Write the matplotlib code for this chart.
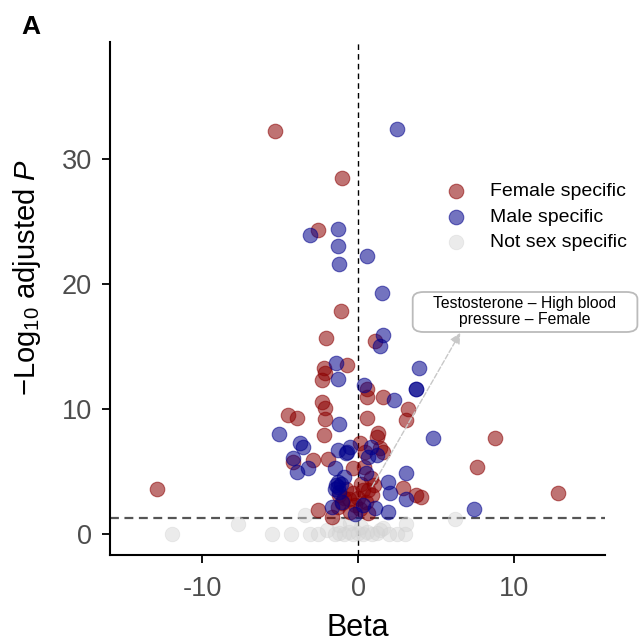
import matplotlib
matplotlib.use("Agg")
import matplotlib.pyplot as plt
from matplotlib.patches import FancyBboxPatch

plt.rcParams['font.family'] = ['Liberation Sans', 'DejaVu Sans']
plt.rcParams['mathtext.fontset'] = 'custom'
plt.rcParams['mathtext.rm'] = 'Liberation Sans'
plt.rcParams['mathtext.it'] = 'Liberation Sans:italic'
plt.rcParams['axes.unicode_minus'] = False

# beta / -log10 adjusted P, per group
female_beta = [-5.3, -1.0, -2.6, -1.1, -2.05, 1.1, -2.2, -2.1, -2.3, -0.7, 0.6, 0.6, 1.6,
               3.2, 3.1, 0.6, -2.3, -2.1, -2.1, -4.5, -3.9, -2.2, -4.2, -2.9, -1.9, -0.3,
               0.1, 0.45, 1.3, 1.2, 1.4, 1.6, 0.8, 1.0, 0.65, 2.9, 3.7, 4.0, 8.8, 7.6, 12.8,
               -12.9, -2.6, -1.7, -1.3, -1.0, -1.2, 0.65, -0.6, -0.3, 0.0, 0.3, -0.2, 0.2,
               0.5, -0.8, 0.9, -0.5, 0.1, -0.9, 0.4]
female_p = [32.2, 28.5, 24.3, 17.8, 15.7, 15.4, 13.3, 12.9, 12.3, 13.5, 11.6, 11.0, 11.0,
            10.0, 9.1, 9.3, 10.6, 10.1, 9.2, 9.5, 9.3, 7.9, 5.8, 5.9, 6.0, 5.3,
            7.3, 6.6, 8.1, 7.8, 6.9, 6.6, 4.5, 3.9, 3.5, 3.7, 3.1, 3.0, 7.7, 5.4, 3.3,
            3.6, 1.9, 1.4, 2.2, 2.5, 3.1, 1.7, 2.8, 3.3, 2.9, 3.5, 2.3, 4.0,
            2.6, 3.6, 3.1, 1.8, 2.0, 2.9, 5.4]

male_beta = [2.5, -1.3, -3.1, -1.3, -1.2, 0.6, 1.5, 1.6, 1.4, -1.4, -1.3, 0.4, 2.3, 3.9,
             3.7, 3.7, -1.2, -5.1, -3.7, -3.5, -4.2, -3.9, -3.2, -1.3, -0.7, -0.5, -1.5,
             -1.3, -1.3, -1.2, -1.4, -1.1, -1.7, 0.8, 1.2, 0.65, 0.5, 1.9, 2.05, 3.1, 3.1,
             4.8, 7.4, 1.1, 1.9, -0.8, -0.9, -1.5, -1.0, -0.2, 0.3]
male_p = [32.4, 24.4, 23.9, 23.0, 21.6, 22.2, 19.3, 15.9, 15.0, 13.7, 12.4, 11.9, 10.7, 13.3,
          11.6, 11.6, 8.8, 8.0, 7.3, 7.0, 6.1, 5.0, 5.3, 6.7, 6.6, 7.0, 5.3,
          4.2, 3.8, 3.4, 3.9, 4.0, 2.2, 7.0, 6.3, 6.2, 4.9, 4.2, 3.3, 4.9, 2.8,
          7.7, 2.0, 2.1, 1.8, 6.5, 4.6, 3.6, 2.6, 1.6, 2.3]

other_beta = [-11.9, -7.7, -5.5, -4.3, -3.1, -2.6, -3.4, -2.0, -1.5, -1.2, -0.9, -0.6, -0.3,
              0.0, 0.3, 0.6, 0.9, 1.2, 1.6, 2.0, 2.5, 3.0, 3.1, 6.2, -1.2, 0.2, -0.5, 1.4]
other_p = [0.0, 0.8, 0.0, 0.0, 0.0, 0.0, 1.5, 0.3, 0.0, 0.1, 0.0, 0.2, 0.0,
           0.1, 0.0, 0.2, 0.0, 0.1, 0.5, 0.0, 0.0, 0.0, 0.8, 1.2, 0.7, 0.6, 0.9, 0.3]

cutoff = 1.3
label_point = (0.9, 3.8)
label_text = "Testosterone \u2013 High blood\npressure \u2013 Female"

fig = plt.figure(figsize=(6.41, 6.42), dpi=100)
ax = fig.add_axes([0.1716, 0.1355, 0.7724, 0.7991])

ax.scatter(other_beta, other_p, s=110, color='lightgrey', alpha=0.45, edgecolors='lightgrey',
           linewidths=0.6, label='Not sex specific', zorder=2)
ax.scatter(female_beta, female_p, s=110, color='darkred', alpha=0.55, edgecolors='darkred',
           linewidths=0.8, label='Female specific', zorder=3)
ax.scatter(male_beta, male_p, s=110, color='darkblue', alpha=0.55, edgecolors='darkblue',
           linewidths=0.8, label='Male specific', zorder=3)

ax.axvline(0, color='black', linestyle=(0, (4, 3)), linewidth=1.0, zorder=1)
ax.axhline(cutoff, color='#555555', linestyle=(0, (4, 2.5)), linewidth=1.6, zorder=1)

# label box with dashed arrow from the point
box = FancyBboxPatch((3.5, 16.16), 14.4, 3.2, boxstyle='round,pad=0,rounding_size=0.7',
                     mutation_aspect=0.8, fc='white', ec='#bbbbbb', lw=1.3,
                     clip_on=False, zorder=5)
ax.add_patch(box)
ax.text(10.7, 17.78, label_text, ha='center', va='center', fontsize=11.3,
        linespacing=1.05, zorder=6, clip_on=False)
ax.annotate('', xy=(6.55, 16.1), xytext=label_point,
            arrowprops=dict(arrowstyle='-|>', color='#c8c8c8', linestyle='--', lw=1.0,
                            shrinkA=0, shrinkB=0, mutation_scale=16),
            zorder=4)

ax.set_xlim(-15.9, 15.83)
ax.set_ylim(-1.68, 39.36)
ax.set_xticks([-10, 0, 10])
ax.set_yticks([0, 10, 20, 30])
ax.tick_params(labelsize=19.5, labelcolor='#4d4d4d', length=6, width=1.3, color='black')
ax.tick_params(axis='x', pad=9)
ax.tick_params(axis='y', pad=7)
for side in ['top', 'right']:
    ax.spines[side].set_visible(False)
for side in ['left', 'bottom']:
    ax.spines[side].set_linewidth(1.5)

ax.set_xlabel('Beta', fontsize=22, va='center')
ax.set_ylabel(r'$-$Log$_{10}$ adjusted $P$', fontsize=21, va='center')
ax.xaxis.set_label_coords(0.5, -0.142)
ax.yaxis.set_label_coords(-0.168, 0.54)

handles = [ax.collections[1], ax.collections[2], ax.collections[0]]
leg = ax.legend(handles=handles, loc='upper left', bbox_to_anchor=(0.697, 0.716),
                bbox_transform=fig.transFigure, frameon=False, fontsize=14,
                borderpad=0, borderaxespad=0, handlelength=1.0, handletextpad=1.2,
                labelspacing=0.42, markerscale=1.0)

fig.text(0.033, 0.958, 'A', fontsize=19, fontweight='bold', va='center')

fig.savefig('out.png', dpi=100)
